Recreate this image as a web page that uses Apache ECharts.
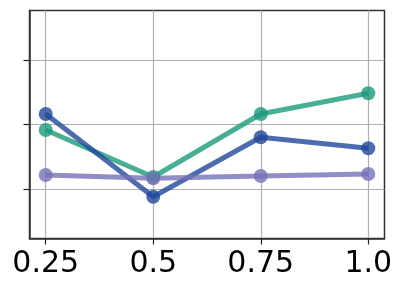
<!DOCTYPE html>
<html>
<head>
<meta charset="utf-8">
<script src="https://cdn.jsdelivr.net/npm/echarts@6/dist/echarts.min.js"></script>
<style>html,body{margin:0;padding:0;background:#fff}#c{width:405px;height:291px}</style>
</head>
<body>
<div id="c"></div>
<script>
var xValues = [0.25, 0.5, 0.75, 1.0];
var xTickLabels = ['0.25', '0.5', '0.75', '1.0'];
var yTicks = [1, 2, 3];
var seriesTeal = [1.915, 1.186, 2.163, 2.484];
var seriesBlue = [2.163, 0.881, 1.802, 1.631];
var seriesLavender = [1.217, 1.166, 1.202, 1.233];
var seriesNames = ['teal', 'blue', 'lavender'];
var seriesColors = ['#1b9a7c', '#1f4799', '#7570b8'];

function pairs(vals) { return xValues.map(function (x, i) { return [x, vals[i]]; }); }
var allVals = [seriesTeal, seriesBlue, seriesLavender];

var chart = echarts.init(document.getElementById('c'), null, {renderer: 'canvas'});
chart.setOption({
  animation: false,
  backgroundColor: '#fff',
  grid: {left: 29.5, right: 20.5, top: 10.5, bottom: 52.5, show: true, borderColor: '#333', borderWidth: 1.5, backgroundColor: 'transparent'},
  xAxis: {
    type: 'value', min: 0.2123, max: 1.0377,
    axisLine: {show: true, lineStyle: {color: '#333', width: 1.5}},
    axisTick: {show: true, length: 6, lineStyle: {color: '#222', width: 1.2}, customValues: xValues},
    axisLabel: {show: true, customValues: xValues, margin: 11, fontFamily: 'DejaVu Sans', fontSize: 30, color: '#000',
      formatter: function (v) { var i = xValues.indexOf(v); return i >= 0 ? xTickLabels[i] : ''; }},
    splitLine: {show: true, lineStyle: {color: '#b0b0b0', width: 1.2}}
  },
  yAxis: {
    type: 'value', min: 0.233, max: 3.767,
    axisLine: {show: true, lineStyle: {color: '#333', width: 1.5}},
    axisTick: {show: true, length: 6, lineStyle: {color: '#222', width: 1.2}, customValues: yTicks},
    axisLabel: {show: false, customValues: yTicks},
    splitLine: {show: true, lineStyle: {color: '#b0b0b0', width: 1.2}}
  },
  series: allVals.map(function (vals, k) {
    return {
      name: seriesNames[k], type: 'line', data: pairs(vals),
      symbol: 'circle', symbolSize: 14, clip: false,
      lineStyle: {color: seriesColors[k], width: 5, opacity: 0.8},
      itemStyle: {color: seriesColors[k], opacity: 0.8, borderWidth: 0}
    };
  })
});
</script>
</body>
</html>
